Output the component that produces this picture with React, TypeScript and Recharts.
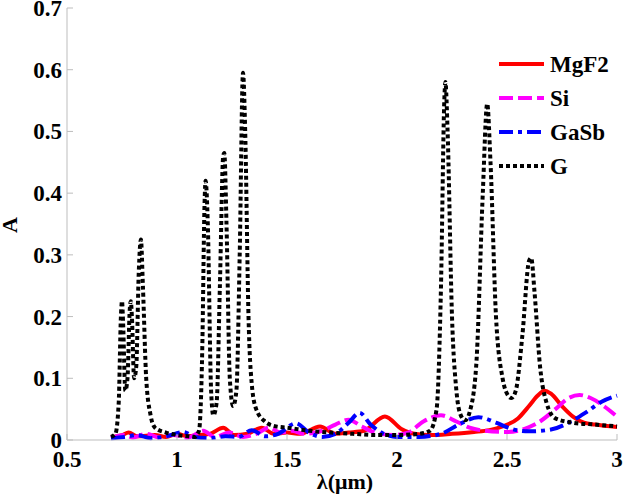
import React from "react";
import { LineChart, Line, XAxis, YAxis } from "recharts";

const xTicks = [0.5, 1, 1.5, 2, 2.5, 3];
const yTicks = [0, 0.1, 0.2, 0.3, 0.4, 0.5, 0.6, 0.7];
const xTickLabels = ["0.5", "1", "1.5", "2", "2.5", "3"];
const yTickLabels = ["0", "0.1", "0.2", "0.3", "0.4", "0.5", "0.6", "0.7"];

const seriesNames = ["MgF2", "Si", "GaSb", "G"];

const mgf2X = [0.7, 0.75, 0.78, 0.82, 0.9, 0.95, 1.0, 1.05, 1.1, 1.15, 1.21, 1.26, 1.32, 1.385, 1.44, 1.5, 1.56, 1.65, 1.72, 1.78, 1.85, 1.945, 2.02, 2.08, 2.15, 2.25, 2.35, 2.42, 2.48, 2.55, 2.6, 2.64, 2.67, 2.7, 2.75, 2.8, 2.85, 2.9, 3.0];
const mgf2Y = [0.005, 0.008, 0.012, 0.006, 0.008, 0.005, 0.01, 0.006, 0.008, 0.01, 0.02, 0.008, 0.01, 0.02, 0.01, 0.012, 0.01, 0.022, 0.01, 0.012, 0.015, 0.038, 0.018, 0.01, 0.008, 0.01, 0.013, 0.016, 0.022, 0.035, 0.055, 0.072, 0.08, 0.075, 0.055, 0.038, 0.028, 0.025, 0.021];

const siX = [0.7, 0.76, 0.8, 0.86, 0.92, 0.98, 1.05, 1.12, 1.17, 1.24, 1.3, 1.36, 1.42, 1.47, 1.52, 1.58, 1.66, 1.72, 1.78, 1.84, 1.9, 1.98, 2.05, 2.12, 2.2, 2.27, 2.33, 2.4, 2.5, 2.58, 2.65, 2.72, 2.78, 2.83, 2.88, 2.94, 3.0];
const siY = [0.003, 0.008, 0.004, 0.01, 0.004, 0.008, 0.004, 0.015, 0.005, 0.012, 0.005, 0.01, 0.02, 0.012, 0.015, 0.01, 0.015, 0.025, 0.033, 0.022, 0.012, 0.008, 0.012, 0.03, 0.04, 0.03, 0.02, 0.015, 0.013, 0.018, 0.03, 0.05, 0.068, 0.073, 0.068, 0.055, 0.038];

const gasbX = [0.7, 0.76, 0.82, 0.88, 0.95, 1.03, 1.08, 1.15, 1.22, 1.28, 1.34, 1.4, 1.46, 1.54, 1.6, 1.66, 1.72, 1.78, 1.83, 1.88, 1.94, 2.0, 2.1, 2.2, 2.28, 2.37, 2.45, 2.52, 2.6, 2.7, 2.78, 2.86, 2.93, 3.0];
const gasbY = [0.003, 0.005, 0.008, 0.003, 0.006, 0.013, 0.005, 0.003, 0.006, 0.005, 0.016, 0.006, 0.01, 0.027, 0.012, 0.005, 0.01, 0.028, 0.044, 0.025, 0.01, 0.005, 0.005, 0.01, 0.025, 0.037, 0.028, 0.018, 0.014, 0.017, 0.028, 0.045, 0.062, 0.072];

const gX = [0.7, 0.72, 0.735, 0.745, 0.75, 0.755, 0.765, 0.775, 0.785, 0.79, 0.795, 0.805, 0.815, 0.826, 0.836, 0.845, 0.86, 0.88, 0.9, 0.95, 1.0, 1.05, 1.08, 1.1, 1.115, 1.125, 1.13, 1.14, 1.155, 1.165, 1.18, 1.195, 1.21, 1.215, 1.225, 1.24, 1.255, 1.27, 1.285, 1.3, 1.31, 1.325, 1.34, 1.36, 1.4, 1.45, 1.5, 1.6, 1.7, 1.8, 1.9, 2.0, 2.1, 2.15, 2.18, 2.2, 2.215, 2.22, 2.23, 2.25, 2.27, 2.29, 2.31, 2.33, 2.36, 2.39, 2.41, 2.425, 2.45, 2.48, 2.5, 2.52, 2.54, 2.57, 2.6, 2.61, 2.625, 2.65, 2.68, 2.72, 2.8, 2.9, 3.0];
const gY = [0.005, 0.01, 0.06, 0.2, 0.225, 0.19, 0.08, 0.1, 0.21, 0.225, 0.2, 0.1, 0.12, 0.27, 0.325, 0.25, 0.1, 0.04, 0.02, 0.012, 0.008, 0.006, 0.005, 0.015, 0.15, 0.38, 0.42, 0.35, 0.08, 0.04, 0.06, 0.25, 0.46, 0.465, 0.35, 0.1, 0.055, 0.08, 0.3, 0.595, 0.5, 0.2, 0.09, 0.05, 0.03, 0.022, 0.02, 0.015, 0.012, 0.01, 0.008, 0.008, 0.01, 0.015, 0.05, 0.25, 0.55, 0.58, 0.5, 0.2, 0.08, 0.04, 0.032, 0.045, 0.12, 0.4, 0.545, 0.45, 0.2, 0.1, 0.075, 0.068, 0.08, 0.17, 0.29, 0.295, 0.24, 0.12, 0.06, 0.035, 0.028, 0.025, 0.022];

const zip = (xs: number[], ys: number[]) => xs.map((x, i) => ({ x, y: ys[i] }));

const series = [
  { name: seriesNames[0], data: zip(mgf2X, mgf2Y), color: "#ff0000", dash: undefined as string | undefined },
  { name: seriesNames[1], data: zip(siX, siY), color: "#ff00ff", dash: "14 5" },
  { name: seriesNames[2], data: zip(gasbX, gasbY), color: "#0000ff", dash: "14 5 4 5" },
  { name: seriesNames[3], data: zip(gX, gY), color: "#000000", dash: "4 3" },
];

const FONT = "'Liberation Serif', serif";
const AXIS_COLOR = "#bdbdbd";

const XTick = (props: any) => {
  const { x, y, payload, index } = props;
  return (
    <g>
      <line x1={x} x2={x} y1={y} y2={y - 6} stroke={AXIS_COLOR} strokeWidth={1} />
      <text x={x} y={y + 27} textAnchor="middle" style={{ fontFamily: FONT, fontWeight: 700, fontSize: 23 }} fill="#000">
        {xTickLabels[index] ?? payload.value}
      </text>
    </g>
  );
};

const YTick = (props: any) => {
  const { x, y, payload, index } = props;
  return (
    <g>
      <line x1={x} x2={x + 6} y1={y} y2={y} stroke={AXIS_COLOR} strokeWidth={1} />
      <text x={x - 5} y={y + 8} textAnchor="end" style={{ fontFamily: FONT, fontWeight: 700, fontSize: 23 }} fill="#000">
        {yTickLabels[index] ?? payload.value}
      </text>
    </g>
  );
};

export default function App() {
  return (
    <div style={{ position: "absolute", left: 0, top: 0, width: 624, height: 500, background: "#fff", fontFamily: FONT }}>
      <LineChart width={624} height={500} margin={{ top: 8, right: 7, bottom: 0, left: 0 }} style={{ fontFamily: FONT }}>
        <XAxis
          type="number"
          dataKey="x"
          domain={[0.5, 3]}
          ticks={xTicks}
          allowDuplicatedCategory={false}
          height={60}
          stroke={AXIS_COLOR}
          tickLine={false}
          tickSize={0}
          tickMargin={0}
          tick={<XTick />}
          interval={0}
        />
        <YAxis
          type="number"
          dataKey="y"
          domain={[0, 0.7]}
          ticks={yTicks}
          width={67}
          stroke={AXIS_COLOR}
          tickLine={false}
          tickSize={0}
          tickMargin={0}
          tick={<YTick />}
          interval={0}
        />
        {series.map((s) => (
          <Line
            key={s.name}
            name={s.name}
            data={s.data}
            dataKey="y"
            type="monotone"
            stroke={s.color}
            strokeWidth={4}
            strokeDasharray={s.dash}
            dot={false}
            activeDot={false}
            isAnimationActive={false}
          />
        ))}
      </LineChart>
      <svg width={124} height={140} style={{ position: "absolute", left: 497, top: 49 }}>
        {series.map((s, i) => {
          const cy = 15 + i * 34;
          return (
            <g key={s.name}>
              <line x1={2} x2={47} y1={cy} y2={cy} stroke={s.color} strokeWidth={4} strokeDasharray={s.dash} />
              <text x={53} y={cy + 8} style={{ fontFamily: FONT, fontWeight: 700, fontSize: 23 }} fill="#000">
                {s.name}
              </text>
            </g>
          );
        })}
      </svg>
      <div
        style={{
          position: "absolute",
          left: 10,
          top: 225,
          transform: "translate(-50%, -50%) rotate(-90deg)",
          fontFamily: FONT,
          fontWeight: "bold",
          fontSize: 22,
          lineHeight: 1,
        }}
      >
        A
      </div>
      <div
        style={{
          position: "absolute",
          left: 345,
          top: 482,
          transform: "translate(-50%, -50%)",
          fontFamily: FONT,
          fontWeight: "bold",
          fontSize: 22,
          lineHeight: 1,
          whiteSpace: "nowrap",
        }}
      >
        λ(μm)
      </div>
    </div>
  );
}
